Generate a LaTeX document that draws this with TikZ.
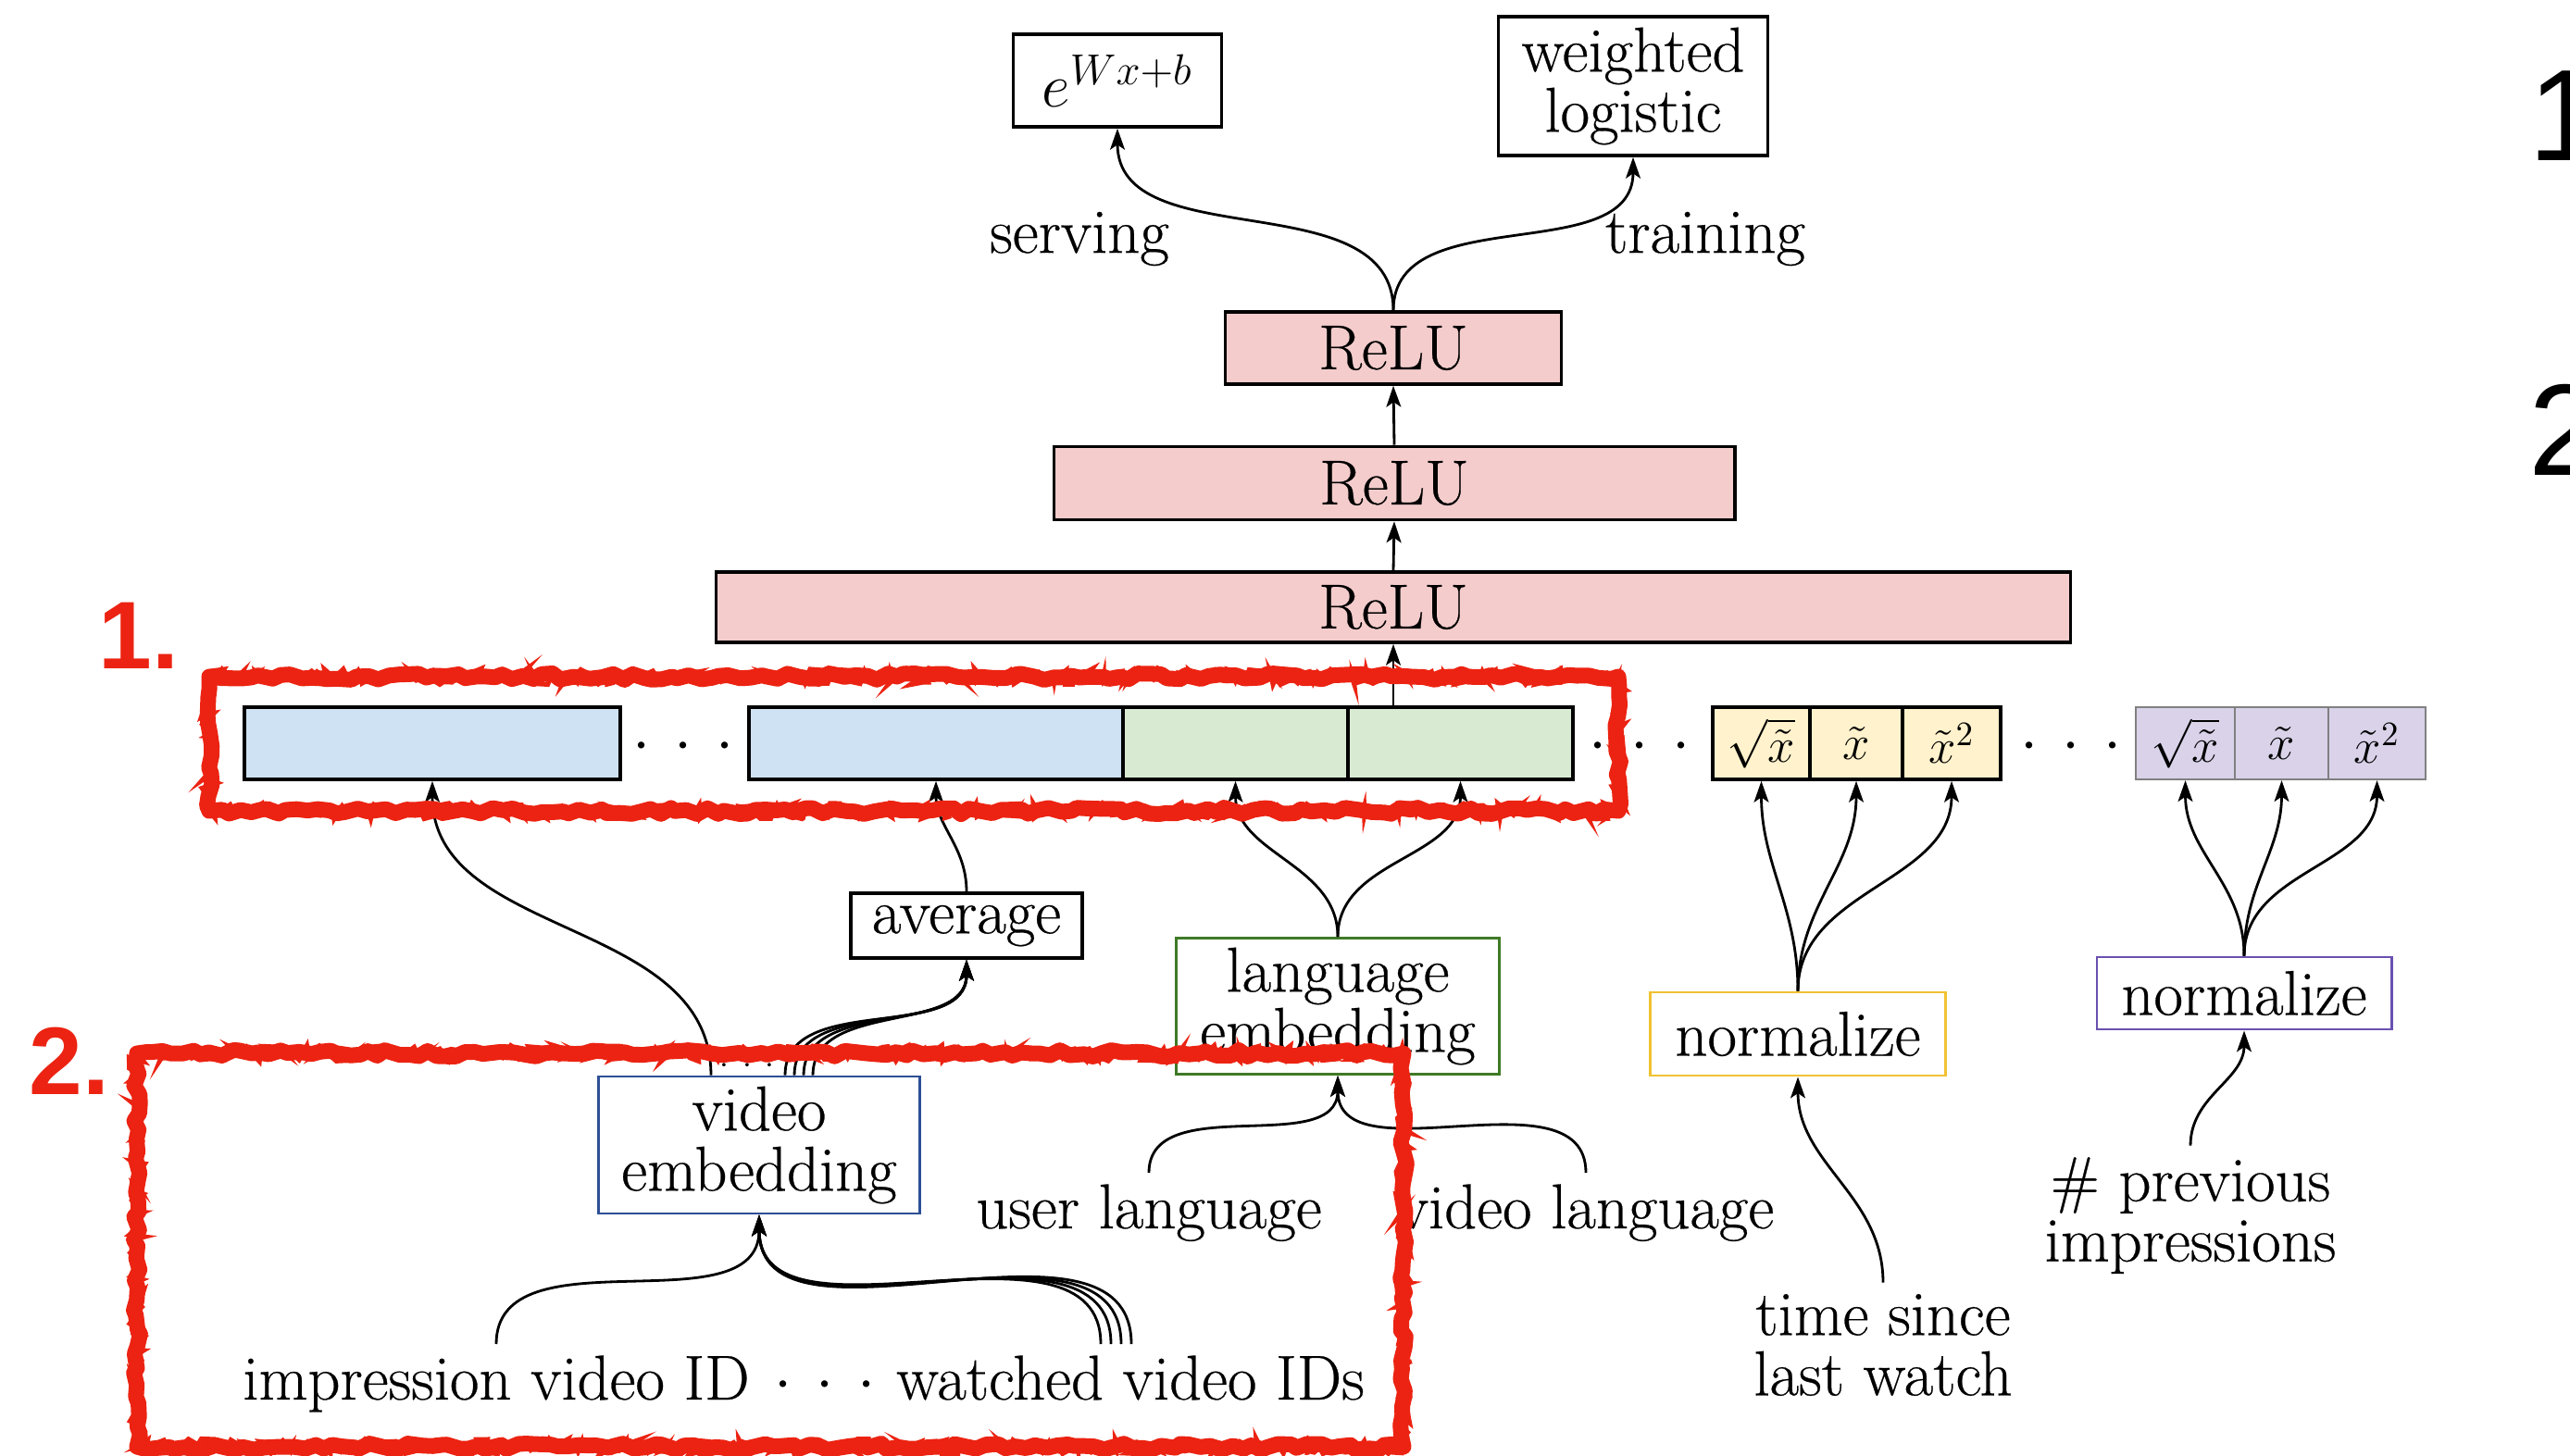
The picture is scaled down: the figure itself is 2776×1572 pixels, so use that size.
\RequirePackage{fix-cm}
\documentclass[tikz,border=0pt]{standalone}
\usepackage{fontspec}
\usepackage{xcolor}
\usetikzlibrary{arrows.meta,decorations.pathmorphing}

\setmainfont{Latin Modern Roman}[FakeBold=0.4]
\newfontfamily\marcafont{Liberation Sans}

\definecolor{rosaRelu}{HTML}{F4CCCC}
\definecolor{azulEmb}{HTML}{CFE2F3}
\definecolor{verdeEmb}{HTML}{D9EAD3}
\definecolor{amarilloNorm}{HTML}{FFF2CC}
\definecolor{moradoNorm}{HTML}{D9D2E9}
\definecolor{bordeAzul}{HTML}{2E4F96}
\definecolor{bordeVerde}{HTML}{3E7A26}
\definecolor{bordeAmarillo}{HTML}{F1C232}
\definecolor{bordeMorado}{HTML}{6A51B0}
\definecolor{rojoMarca}{HTML}{EC2312}

\newcommand{\puntos}{${\cdot}\hskip7.4pt{\cdot}\hskip7.4pt{\cdot}$}

\tikzset{
  every node/.style={font=\fontsize{19.5}{18.5}\selectfont},
  flecha/.style={-{Stealth[length=6.5pt,width=4.5pt,inset=1.5pt]},line width=0.8pt},
  caja/.style={draw,line width=1pt,inner sep=0pt,align=center},
  relu/.style={caja,fill=rosaRelu},
  celda/.style={draw,line width=1pt,inner sep=0pt,minimum height=0.78cm,
    font=\fontsize{15}{16}\selectfont},
  puntitos/.style={anchor=base,inner sep=0pt},
  texto/.style={align=center},
  trazo/.style={rojoMarca,line width=0.17cm,line join=round,decorate,
    decoration={random steps,segment length=3pt,amplitude=1pt}},
  pelo/.style={rojoMarca,line width=0.05cm,decorate,
    decoration={random steps,segment length=1.5pt,amplitude=2.5pt}},
}

\begin{document}
\begin{tikzpicture}[x=0.01cm,y=-0.01cm]
  % Paso 1: lienzo blanco y recorte
  \fill[white] (0,0) rectangle (2776,1572);
  \clip (0,0) rectangle (2776,1572);
  \pgfmathsetseed{11}

  % Paso 2: salidas y capas ReLU
  \node[caja,minimum width=2.25cm,minimum height=1cm,font=\fontsize{19}{20}\selectfont] (expo) at (1207,87) {$e^{Wx+b}$};
  \node[caja,minimum width=2.91cm,minimum height=1.5cm] (logistica) at (1764,93) {weighted\\logistic};
  \node (serving) at (1166,258) {serving};
  \node (training) at (1842,258) {training};
  \node[relu,minimum width=3.63cm,minimum height=0.78cm] (relu3) at (1505,376) {ReLU};
  \node[relu,minimum width=7.35cm,minimum height=0.79cm] (relu2) at (1506,522) {ReLU};
  \node[relu,minimum width=14.62cm,minimum height=0.76cm] (relu1) at (1505,656) {ReLU};

  % Paso 3: fila de embeddings y rasgos normalizados
  \node[celda,fill=azulEmb,minimum width=4.06cm] (vid1) at (467,803) {};
  \node[puntitos] (pts1) at (738,822) {\puntos};
  \node[celda,fill=azulEmb,minimum width=4.04cm] (vid2) at (1011,803) {};
  \node[celda,fill=verdeEmb,minimum width=2.43cm] (leng1) at (1334.5,803) {};
  \node[celda,fill=verdeEmb,minimum width=2.43cm] (leng2) at (1577.5,803) {};
  \node[puntitos] (pts2) at (1771,822) {\puntos};
  \node[celda,fill=amarilloNorm,minimum width=1.05cm] (t1) at (1902.5,803) {$\sqrt{\tilde{x}}$};
  \node[celda,fill=amarilloNorm,minimum width=1.00cm] (t2) at (2005,803) {$\tilde{x}$};
  \node[celda,fill=amarilloNorm,minimum width=1.06cm] (t3) at (2108,803) {$\tilde{x}^2$};
  \node[puntitos] (pts3) at (2237,822) {\puntos};
  \node[celda,fill=moradoNorm,draw=gray,line width=0.6pt,minimum width=1.07cm] (p1) at (2360.5,803) {$\sqrt{\tilde{x}}$};
  \node[celda,fill=moradoNorm,draw=gray,line width=0.6pt,minimum width=1.01cm] (p2) at (2464.5,803) {$\tilde{x}$};
  \node[celda,fill=moradoNorm,draw=gray,line width=0.6pt,minimum width=1.05cm] (p3) at (2567.5,803) {$\tilde{x}^2$};

  % Paso 4: cajas intermedias
  \node[caja,minimum width=2.5cm,minimum height=0.7cm] (prom) at (1044,1000) {average};
  \node[caja,draw=bordeVerde,line width=0.8pt,minimum width=3.49cm,minimum height=1.47cm] (lengEmb) at (1445,1087) {language\\embedding};
  \node[caja,draw=bordeAzul,line width=0.8pt,minimum width=3.47cm,minimum height=1.48cm] (vidEmb) at (820,1237) {video\\embedding};
  \node[caja,draw=bordeAmarillo,line width=0.8pt,minimum width=3.19cm,minimum height=0.9cm] (normT) at (1942,1117) {normalize};
  \node[caja,draw=bordeMorado,line width=0.8pt,minimum width=3.18cm,minimum height=0.78cm] (normP) at (2424,1073) {normalize};
  \node[puntitos,font=\fontsize{10}{10}\selectfont] (ptsVid) at (807,1159) {${\cdot}\hskip4.3pt{\cdot}\hskip4.3pt{\cdot}$};

  % Paso 5: entradas
  \node[anchor=base] (impresion) at (536,1512) {impression video ID};
  \node[puntitos] (pts4) at (891,1512) {\puntos};
  \node[anchor=base] (vistos) at (1221,1512) {watched video IDs};
  \node[anchor=base] (usuario) at (1241,1327) {user language};
  \node[anchor=base] (idiomaVid) at (1713,1327) {video language};
  \node[texto] (tiempo) at (2034,1453) {time since\\last watch};
  \node[texto] (previas) at (2366,1313) {\# previous\\impressions};

  % Paso 6: conexiones
  \draw[flecha] (relu3.north) to[out=90,in=-90] (expo.south);
  \draw[flecha] (relu3.north) to[out=90,in=-90] (logistica.south);
  \draw[flecha] (relu2.north) -- (relu3.south);
  \draw[flecha] (relu1.north) -- (relu2.south);
  \draw[flecha] (relu1.south |- leng2.north) -- (relu1.south);
  \draw[flecha] ([xshift=-0.52cm]vidEmb.north) to[out=90,in=-90] (vid1.south);
  \foreach \d in {0.28,0.38,0.48,0.58}
    \draw[flecha] ([xshift=\d cm]vidEmb.north) to[out=90,in=-90] (prom.south);
  \draw[flecha] (prom.north) to[out=90,in=-90] (vid2.south);
  \foreach \c in {leng1,leng2}
    \draw[flecha] (lengEmb.north) to[out=90,in=-90] (\c.south);
  \foreach \c in {t1,t2,t3}
    \draw[flecha] (normT.north) to[out=90,in=-90] (\c.south);
  \foreach \c in {p1,p2,p3}
    \draw[flecha] (normP.north) to[out=90,in=-90] (\c.south);
  \draw[flecha] (impresion.north) to[out=90,in=-90] (vidEmb.south);
  \foreach \d in {-0.32,-0.21,-0.10,0.01}
    \draw[flecha] ([xshift=\d cm]vistos.north) to[out=90,in=-90] (vidEmb.south);
  \draw[flecha] (usuario.north) to[out=90,in=-90] (lengEmb.south);
  \draw[flecha] (idiomaVid.north) to[out=90,in=-90] (lengEmb.south);
  \draw[flecha] (tiempo.north) to[out=90,in=-90] (normT.south);
  \draw[flecha] (previas.north) to[out=90,in=-90] (normP.south);

  % Paso 7: marcas rojas y numeros
  \draw[trazo] (226,731) rectangle (1748,876);
  \draw[pelo] (226,731) rectangle (1748,876);
  \draw[trazo] (148,1138) rectangle (1516,1563);
  \draw[pelo] (148,1138) rectangle (1516,1563);
  \node[text=rojoMarca,inner sep=0pt,font=\marcafont\bfseries\fontsize{29.5}{30}\selectfont] (marca1) at (150,687) {1.};
  \node[text=rojoMarca,inner sep=0pt,font=\marcafont\bfseries\fontsize{29.5}{30}\selectfont] (marca2) at (75,1146) {2.};
  \node[anchor=base west,inner sep=0pt,font=\marcafont\fontsize{40}{40}\selectfont] (lado1) at (2731,173) {1};
  \node[anchor=base west,inner sep=0pt,font=\marcafont\fontsize{40}{40}\selectfont] (lado2) at (2731,513) {2};
\end{tikzpicture}
\end{document}
